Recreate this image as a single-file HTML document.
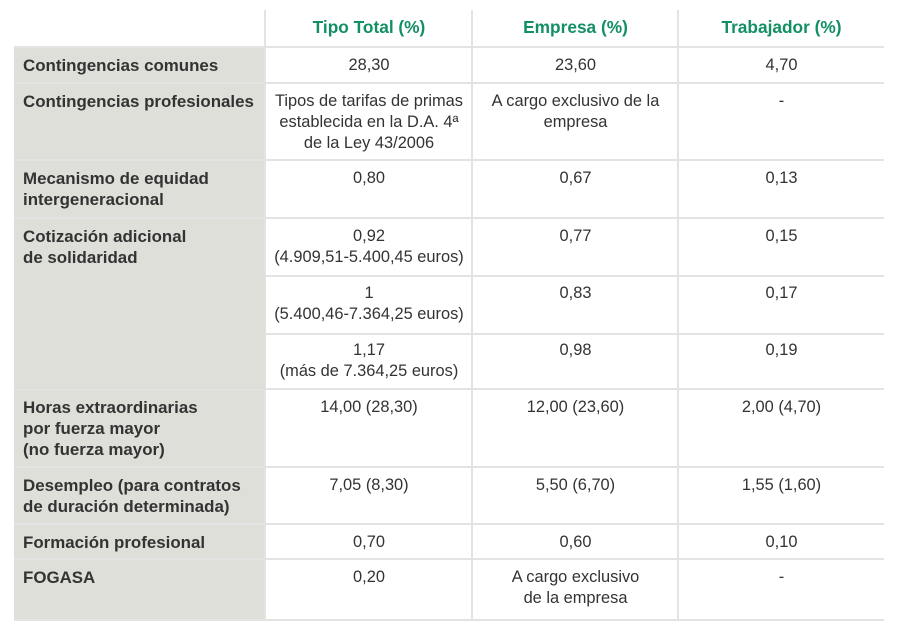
<!DOCTYPE html>
<html><head><meta charset="utf-8"><style>
*{margin:0;padding:0;box-sizing:border-box}
body{width:900px;height:630px;background:#fff;position:relative;overflow:hidden;font-family:"Liberation Sans",Arial,sans-serif;font-size:16.4px;color:#333}
.g{position:absolute;left:14px;width:251px;background:#dfdfda}
.h{position:absolute;left:14px;width:870px;height:2px;background:#e3e3e3}
.v{position:absolute;width:2px;background:#e3e3e3;top:10px;height:610px}
.c{position:absolute;line-height:21px;text-align:center}
.l{position:absolute;left:23px;line-height:21px;font-weight:bold;color:#333;font-size:16.9px}
.hd{position:absolute;top:17px;line-height:21px;text-align:center;color:#129063;font-weight:bold;font-size:17.3px}
</style></head><body>
<div class="g" style="top:47px;height:573px"></div>
<div class="v" style="left:264px"></div>
<div class="v" style="left:471px"></div>
<div class="v" style="left:677px"></div>
<div class="h" style="top:46px"></div>
<div class="h" style="top:82px"></div>
<div class="h" style="top:159px"></div>
<div class="h" style="top:217px"></div>
<div class="h" style="top:275px"></div>
<div class="h" style="top:333px"></div>
<div class="h" style="top:388px"></div>
<div class="h" style="top:466px"></div>
<div class="h" style="top:523px"></div>
<div class="h" style="top:558px"></div>
<div class="h" style="top:619px"></div>
<div class="g" style="top:275px;height:114px"></div>
<div class="hd" style="left:266px;width:206px">Tipo Total (%)</div>
<div class="hd" style="left:473px;width:205px">Empresa (%)</div>
<div class="hd" style="left:679px;width:205px">Trabajador (%)</div>

<div class="l" style="top:55px">Contingencias comunes</div>
<div class="c" style="top:55px;left:266px;width:206px">28,30</div>
<div class="c" style="top:55px;left:473px;width:205px">23,60</div>
<div class="c" style="top:55px;left:679px;width:205px">4,70</div>

<div class="l" style="top:91px">Contingencias profesionales</div>
<div class="c" style="top:91px;left:266px;width:206px">Tipos de tarifas de primas<br>establecida en la D.A. 4ª<br>de la Ley 43/2006</div>
<div class="c" style="top:91px;left:473px;width:205px">A cargo exclusivo de la<br>empresa</div>
<div class="c" style="top:91px;left:679px;width:205px">-</div>

<div class="l" style="top:168px">Mecanismo de equidad<br>intergeneracional</div>
<div class="c" style="top:168px;left:266px;width:206px">0,80</div>
<div class="c" style="top:168px;left:473px;width:205px">0,67</div>
<div class="c" style="top:168px;left:679px;width:205px">0,13</div>

<div class="l" style="top:226px">Cotización adicional<br>de solidaridad</div>
<div class="c" style="top:226px;left:266px;width:206px">0,92<br>(4.909,51-5.400,45 euros)</div>
<div class="c" style="top:226px;left:473px;width:205px">0,77</div>
<div class="c" style="top:226px;left:679px;width:205px">0,15</div>
<div class="c" style="top:283px;left:266px;width:206px">1<br>(5.400,46-7.364,25 euros)</div>
<div class="c" style="top:283px;left:473px;width:205px">0,83</div>
<div class="c" style="top:283px;left:679px;width:205px">0,17</div>
<div class="c" style="top:340px;left:266px;width:206px">1,17<br>(más de 7.364,25 euros)</div>
<div class="c" style="top:340px;left:473px;width:205px">0,98</div>
<div class="c" style="top:340px;left:679px;width:205px">0,19</div>

<div class="l" style="top:397px">Horas extraordinarias<br>por fuerza mayor<br>(no fuerza mayor)</div>
<div class="c" style="top:397px;left:266px;width:206px">14,00 (28,30)</div>
<div class="c" style="top:397px;left:473px;width:205px">12,00 (23,60)</div>
<div class="c" style="top:397px;left:679px;width:205px">2,00 (4,70)</div>

<div class="l" style="top:475px">Desempleo (para contratos<br>de duración determinada)</div>
<div class="c" style="top:475px;left:266px;width:206px">7,05 (8,30)</div>
<div class="c" style="top:475px;left:473px;width:205px">5,50 (6,70)</div>
<div class="c" style="top:475px;left:679px;width:205px">1,55 (1,60)</div>

<div class="l" style="top:532px">Formación profesional</div>
<div class="c" style="top:532px;left:266px;width:206px">0,70</div>
<div class="c" style="top:532px;left:473px;width:205px">0,60</div>
<div class="c" style="top:532px;left:679px;width:205px">0,10</div>

<div class="l" style="top:567px">FOGASA</div>
<div class="c" style="top:567px;left:266px;width:206px">0,20</div>
<div class="c" style="top:567px;left:473px;width:205px">A cargo exclusivo<br>de la empresa</div>
<div class="c" style="top:567px;left:679px;width:205px">-</div>
</body></html>
